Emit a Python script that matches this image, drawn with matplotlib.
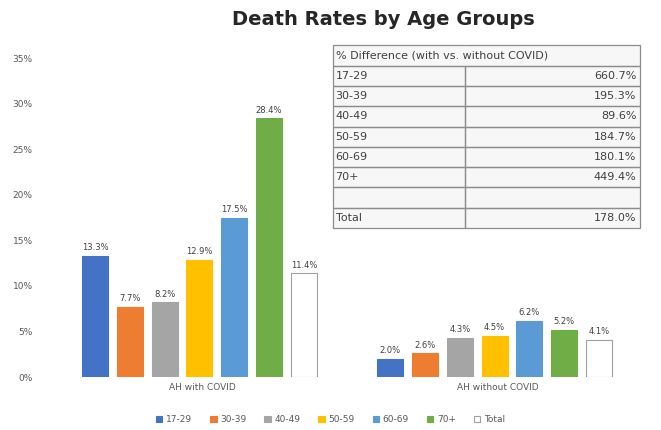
import numpy as np
import matplotlib.pyplot as plt
from matplotlib.patches import Rectangle
from matplotlib.ticker import PercentFormatter

# chart data
groups = ['AH with COVID', 'AH without COVID']
age_groups = ['17-29', '30-39', '40-49', '50-59', '60-69', '70+', 'Total']
with_covid = [13.3, 7.7, 8.2, 12.9, 17.5, 28.4, 11.4]
without_covid = [2.0, 2.6, 4.3, 4.5, 6.2, 5.2, 4.1]
colors = ['#4472C4', '#ED7D31', '#A5A5A5', '#FFC000', '#5B9BD5', '#70AD47', '#FFFFFF']

# table data
table_title = '% Difference (with vs. without COVID)'
table_rows = ['17-29', '30-39', '40-49', '50-59', '60-69', '70+', '', 'Total']
table_vals = ['660.7%', '195.3%', '89.6%', '184.7%', '180.1%', '449.4%', '', '178.0%']

fig = plt.figure(figsize=(6.61, 4.30), dpi=100)
ax = fig.add_axes([0.083, 0.123, 0.893, 0.742])

x = np.arange(len(groups))
slot = 0.118
width = 0.088
for i, age in enumerate(age_groups):
    vals = [with_covid[i], without_covid[i]]
    pos = x + (i - 3) * slot - 0.01
    edge = '#A0A0A0' if age == 'Total' else colors[i]
    bars = ax.bar(pos, vals, width, color=colors[i], edgecolor=edge,
                  linewidth=0.8, label=age)
    for b, v in zip(bars, vals):
        ax.text(b.get_x() + b.get_width() / 2, v + 0.4, f'{v:.1f}%',
                ha='center', va='bottom', fontsize=6, color='#404040')

ax.set_xlim(-0.5, 1.5)
ax.set_ylim(0, 35)
ax.set_yticks(np.arange(0, 36, 5))
ax.yaxis.set_major_formatter(PercentFormatter(decimals=0))
ax.set_xticks(x)
ax.set_xticklabels(groups)
ax.tick_params(axis='both', labelsize=6.5, colors='#595959', length=0)
ax.tick_params(axis='y', pad=16)
ax.tick_params(axis='x', pad=4)
for s in ax.spines.values():
    s.set_visible(False)

fig.text(0.58, 0.955, 'Death Rates by Age Groups', ha='center', va='center',
         fontsize=14, fontweight='bold', color='#262626')

leg = fig.legend(loc='lower center', bbox_to_anchor=(0.5, -0.005), ncol=7,
                 fontsize=6.5, frameon=False, handlelength=0.7,
                 handleheight=0.7, columnspacing=2.0, handletextpad=0.4)
for t in leg.get_texts():
    t.set_color('#595959')

# difference table
tbl_box = [0.471, 0.467, 0.52, 0.573]
ax.add_patch(Rectangle((tbl_box[0], tbl_box[1]), tbl_box[2], tbl_box[3],
                       transform=ax.transAxes, facecolor='#F7F7F7',
                       edgecolor='none', clip_on=False, zorder=4))
cells = [[table_title, '']] + [[r, v] for r, v in zip(table_rows, table_vals)]
tbl = ax.table(cellText=cells, bbox=tbl_box, colWidths=[0.43, 0.57])
tbl.set_zorder(5)
tbl.auto_set_font_size(False)
tbl.set_fontsize(8)
for (r, c), cell in tbl.get_celld().items():
    cell.set_edgecolor('#8C8C8C')
    cell.set_linewidth(0.9)
    cell.set_facecolor('none')
    cell.get_text().set_color('#404040')
    cell.PAD = 0.02
    cell.get_text().set_ha('left' if c == 0 else 'right')
    if r == 0:
        cell.visible_edges = 'BTL' if c == 0 else 'BTR'
    else:
        cell.visible_edges = 'BTRL'

fig.savefig('out.png', dpi=100)
